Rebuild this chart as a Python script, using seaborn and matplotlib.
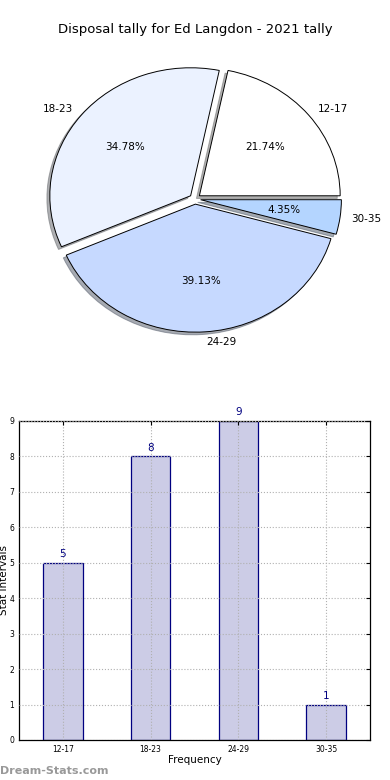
import matplotlib
matplotlib.use('Agg')
import matplotlib.pyplot as plt
import seaborn as sns
import pandas as pd

# chart data
categories = ['12-17', '18-23', '24-29', '30-35']
counts = [5, 8, 9, 1]
pie_colors = ['#ffffff', '#ebf2ff', '#c6d9ff', '#b4d5ff']
title = 'Disposal tally for Ed Langdon - 2021 tally'

sns.set_style('white')
plt.rcParams['font.family'] = ['DejaVu Sans']
plt.rcParams['text.color'] = 'black'
plt.rcParams['axes.labelcolor'] = 'black'
plt.rcParams['xtick.color'] = 'black'
plt.rcParams['ytick.color'] = 'black'

fig = plt.figure(figsize=(3.9, 7.8), dpi=100)

# pie chart on top (the original is slightly squashed vertically)
ax_pie = fig.add_axes([0.0487, 0.5397, 0.9026, 0.4103])
wedges, texts, autotexts = ax_pie.pie(
    counts, labels=categories, colors=pie_colors, autopct='%.2f%%',
    explode=[0.04] * len(counts), labeldistance=1.08,
    shadow={'ox': -0.015, 'oy': -0.015, 'shade': 0.6}, startangle=0,
    wedgeprops={'edgecolor': 'black', 'linewidth': 0.7},
    textprops={'fontsize': 7.5})
ax_pie.set_aspect('auto')
ax_pie.set_xlim(-1.25, 1.25)
ax_pie.set_ylim(-1.25, 1.25)
fig.text(0.5, 1 - 30 / 780, title, ha='center', va='center', fontsize=9.5)

# bar chart below
df = pd.DataFrame({'Interval': categories, 'Count': counts})
ax_bar = fig.add_axes([0.0487, 0.0513, 0.9, 0.409])
sns.barplot(data=df, x='Interval', y='Count', ax=ax_bar, width=0.45,
            color='#ccccE6', edgecolor='navy', linewidth=0.9, saturation=1)
ax_bar.set_xlim(-0.5, 3.5)
ax_bar.set_ylim(0, 9)
ax_bar.set_yticks(range(0, 10))
ax_bar.grid(True, linestyle=':', color='#b0b0b0', linewidth=0.8)
ax_bar.set_axisbelow(False)
for spine in ax_bar.spines.values():
    spine.set_color('black')
    spine.set_linewidth(0.9)
ax_bar.tick_params(axis='both', direction='in', top=True, right=True,
                   labelsize=5.5, length=3, color='black')
for i, v in enumerate(counts):
    ax_bar.text(i, v + 0.1, str(v), ha='center', va='bottom',
                color='navy', fontsize=7.5)
ax_bar.set_xlabel('Frequency', fontsize=7.5, labelpad=1)
ax_bar.set_ylabel('Stat Intervals', fontsize=7.5, labelpad=0)

fig.text(0.0, 1 - 771 / 780, 'Dream-Stats.com', ha='left', va='center',
         fontsize=8, color='#999999', fontweight='bold')

fig.savefig('out.png', dpi=100)
